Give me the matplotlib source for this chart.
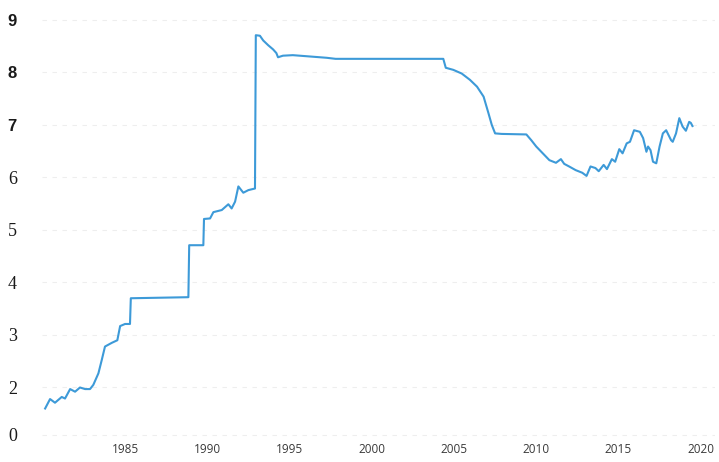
import matplotlib
matplotlib.use("Agg")
import matplotlib.pyplot as plt

# exchange rate (year, value)
years = [1980.14, 1980.44, 1980.74, 1981.15, 1981.35, 1981.66, 1981.96, 1982.26,
         1982.57, 1982.87, 1983.07, 1983.38, 1983.58, 1983.78, 1984.19, 1984.53,
         1984.70, 1985.0, 1985.3, 1985.35, 1988.85, 1988.9, 1989.76, 1989.8,
         1990.17, 1990.37, 1990.88, 1991.28, 1991.48, 1991.69, 1991.89, 1992.19,
         1992.5, 1992.9, 1992.95, 1993.2, 1993.4, 1993.7, 1994.0, 1994.2,
         1994.3, 1994.6, 1995.2, 1997.26, 1997.8, 2004.35, 2004.5, 2004.96,
         2005.47, 2005.97, 2006.4, 2006.8, 2007.1, 2007.3, 2007.5, 2007.9,
         2009.4, 2009.7, 2010.0, 2010.4, 2010.8, 2011.2, 2011.5, 2011.7,
         2012.0, 2012.4, 2012.8, 2013.06, 2013.3, 2013.6, 2013.8, 2014.1,
         2014.3, 2014.6, 2014.8, 2015.05, 2015.25, 2015.5, 2015.7, 2015.95,
         2016.3, 2016.5, 2016.7, 2016.8, 2016.95, 2017.1, 2017.3, 2017.5,
         2017.7, 2017.9, 2018.2, 2018.3, 2018.5, 2018.7, 2018.9, 2019.1,
         2019.3, 2019.4, 2019.5]
rates = [1.60, 1.78, 1.71, 1.82, 1.79, 1.97, 1.92, 2.00,
         1.97, 1.97, 2.05, 2.27, 2.52, 2.78, 2.85, 2.90,
         3.17, 3.21, 3.21, 3.70, 3.72, 4.71, 4.71, 5.21,
         5.22, 5.34, 5.38, 5.49, 5.41, 5.54, 5.83, 5.71,
         5.76, 5.79, 8.71, 8.70, 8.61, 8.52, 8.44, 8.37,
         8.29, 8.32, 8.33, 8.28, 8.26, 8.26, 8.09, 8.05,
         7.98, 7.86, 7.73, 7.54, 7.22, 7.0, 6.84, 6.83,
         6.82, 6.71, 6.59, 6.46, 6.33, 6.28, 6.35, 6.26,
         6.21, 6.14, 6.09, 6.03, 6.21, 6.18, 6.12, 6.24,
         6.16, 6.35, 6.30, 6.54, 6.46, 6.65, 6.68, 6.90,
         6.87, 6.75, 6.49, 6.59, 6.52, 6.30, 6.27, 6.59,
         6.84, 6.90, 6.71, 6.68, 6.84, 7.13, 6.97, 6.89,
         7.06, 7.04, 6.98]

x_ticks = [1985, 1990, 1995, 2000, 2005, 2010, 2015, 2020]
y_ticks = [1.1, 2, 3, 4, 5, 6, 7, 8, 9]
y_labels = ['0', '2', '3', '4', '5', '6', '7', '8', '9']

fig = plt.figure(figsize=(7.19, 4.62), dpi=100)
ax = fig.add_axes([42 / 719, (462 - 440) / 462, 673 / 719, 425 / 462])

ax.plot(years, rates, color='#3d9ad8', lw=1.5, solid_joinstyle='round')

ax.set_xlim(1979.95, 2020.87)
ax.set_ylim(1.0, 9.095)

ax.set_xticks(x_ticks)
ax.set_xticklabels([str(t) for t in x_ticks])
ax.set_yticks(y_ticks)
ax.set_yticklabels(y_labels)

for t in ax.get_xticklabels():
    t.set_fontfamily('Open Sans')
    t.set_fontsize(8.5)
    t.set_color('#3a3a3a')
for t in ax.get_yticklabels():
    if t.get_text() in ('7', '8', '9'):
        t.set_fontfamily('Liberation Sans')
        t.set_fontweight('bold')
        t.set_fontsize(12)
    else:
        t.set_fontfamily('Liberation Serif')
        t.set_fontsize(13)
    t.set_color('#1a1a1a')

ax.tick_params(axis='both', length=0)
ax.tick_params(axis='y', pad=18)
ax.tick_params(axis='x', pad=2)

ax.grid(axis='y', color='#eeeeee', linestyle=(0, (4, 5)), lw=0.8)
ax.grid(axis='x', visible=False)
for s in ax.spines.values():
    s.set_visible(False)

fig.savefig('out.png', dpi=100)
